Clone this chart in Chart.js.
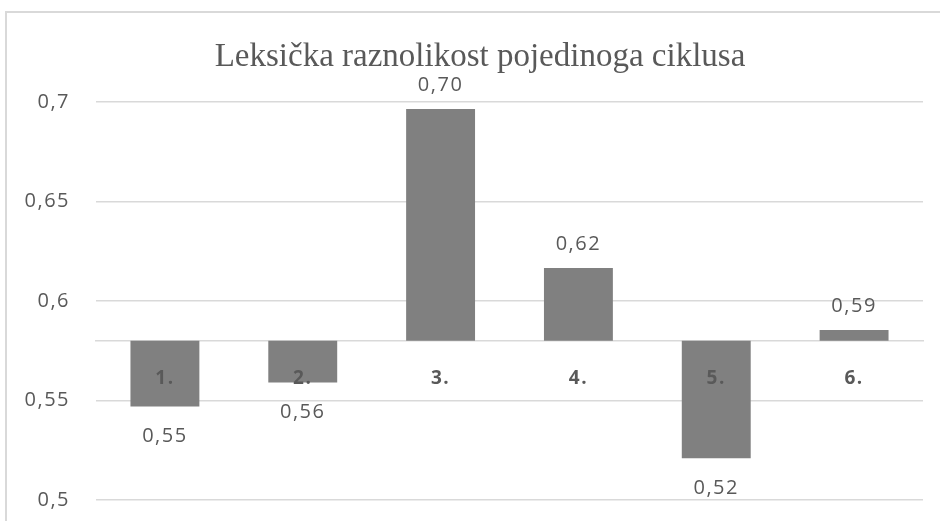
<!DOCTYPE html>
<html>
<head>
<meta charset="utf-8">
<script src="https://cdn.jsdelivr.net/npm/chart.js@4/dist/chart.umd.min.js"></script>
<style>
  html, body { margin: 0; padding: 0; background: #ffffff; }
  #wrap { position: relative; width: 940px; height: 521px; }
</style>
</head>
<body>
<div id="wrap"><canvas id="c" width="940" height="521"></canvas></div>
<script>
// ---- data ----
const categories = ["1.", "2.", "3.", "4.", "5.", "6."];
const values = [0.547, 0.559, 0.6965, 0.6166, 0.521, 0.5854];
const valueLabels = ["0,55", "0,56", "0,70", "0,62", "0,52", "0,59"];
const baseValue = 0.58;
const yMin = 0.5, yMax = 0.7, yStep = 0.05;
const chartTitle = "Leksička raznolikost pojedinoga ciklusa";

const GRAY_TEXT = "#595959";
const GRID = "#d9d9d9";

// background, frame and title
const framePlugin = {
  id: "frame",
  beforeDraw(chart) {
    const ctx = chart.ctx;
    ctx.save();
    ctx.fillStyle = "#ffffff";
    ctx.fillRect(0, 0, chart.width, chart.height);
    ctx.strokeStyle = "#d9d9d9";
    ctx.lineWidth = 2;
    ctx.beginPath();
    ctx.moveTo(940, 12);
    ctx.lineTo(6, 12);
    ctx.lineTo(6, 521);
    ctx.stroke();
    if ("letterSpacing" in ctx) ctx.letterSpacing = "0px";
    ctx.font = "33px 'Liberation Serif'";
    ctx.fillStyle = GRAY_TEXT;
    ctx.textAlign = "center";
    ctx.textBaseline = "middle";
    ctx.fillText(chartTitle, 480, 57);
    ctx.restore();
    if ("letterSpacing" in ctx) ctx.letterSpacing = "1.5px";
  }
};

const valueLabelPlugin = {
  id: "valueLabels",
  afterDatasetsDraw(chart) {
    const ctx = chart.ctx;
    const meta = chart.getDatasetMeta(0);
    ctx.save();
    ctx.font = "20px 'Open Sans'";
    ctx.fillStyle = GRAY_TEXT;
    ctx.textAlign = "center";
    ctx.textBaseline = "middle";
    meta.data.forEach((el, i) => {
      const v = values[i];
      const y = v >= baseValue ? el.y - 24 : el.y + 30;
      ctx.fillText(valueLabels[i], el.x, y);
    });
    ctx.restore();
  }
};

new Chart(document.getElementById("c"), {
  type: "bar",
  data: {
    labels: categories,
    datasets: [{
      data: values,
      base: baseValue,
      backgroundColor: "#808080",
      borderWidth: 0,
      barPercentage: 0.5,
      categoryPercentage: 1.0
    }]
  },
  options: {
    responsive: false,
    animation: false,
    layout: { padding: { left: 0, right: 17, top: 102, bottom: 21 } },
    plugins: {
      legend: { display: false },
      tooltip: { enabled: false },
      title: { display: false }
    },
    scales: {
      x: {
        position: { y: baseValue },
        grid: { display: false, drawTicks: false },
        border: { display: true, color: GRID, width: 1.5 },
        ticks: {
          z: 1,
          padding: 26,
          color: GRAY_TEXT,
          font: { family: "'Open Sans'", size: 19, weight: "bold" }
        }
      },
      y: {
        min: yMin,
        max: yMax,
        afterFit(scale) {
          scale.width = 96;
          scale.paddingTop = 0;
          scale.paddingBottom = 0;
        },
        grid: { color: GRID, lineWidth: 1.5, drawTicks: false },
        border: { display: false },
        ticks: {
          stepSize: yStep,
          padding: 26,
          color: GRAY_TEXT,
          font: { family: "'Open Sans'", size: 20 },
          callback: (v) => String(parseFloat(Number(v).toFixed(2))).replace(".", ",")
        }
      }
    }
  },
  plugins: [framePlugin, valueLabelPlugin]
});
</script>
</body>
</html>
